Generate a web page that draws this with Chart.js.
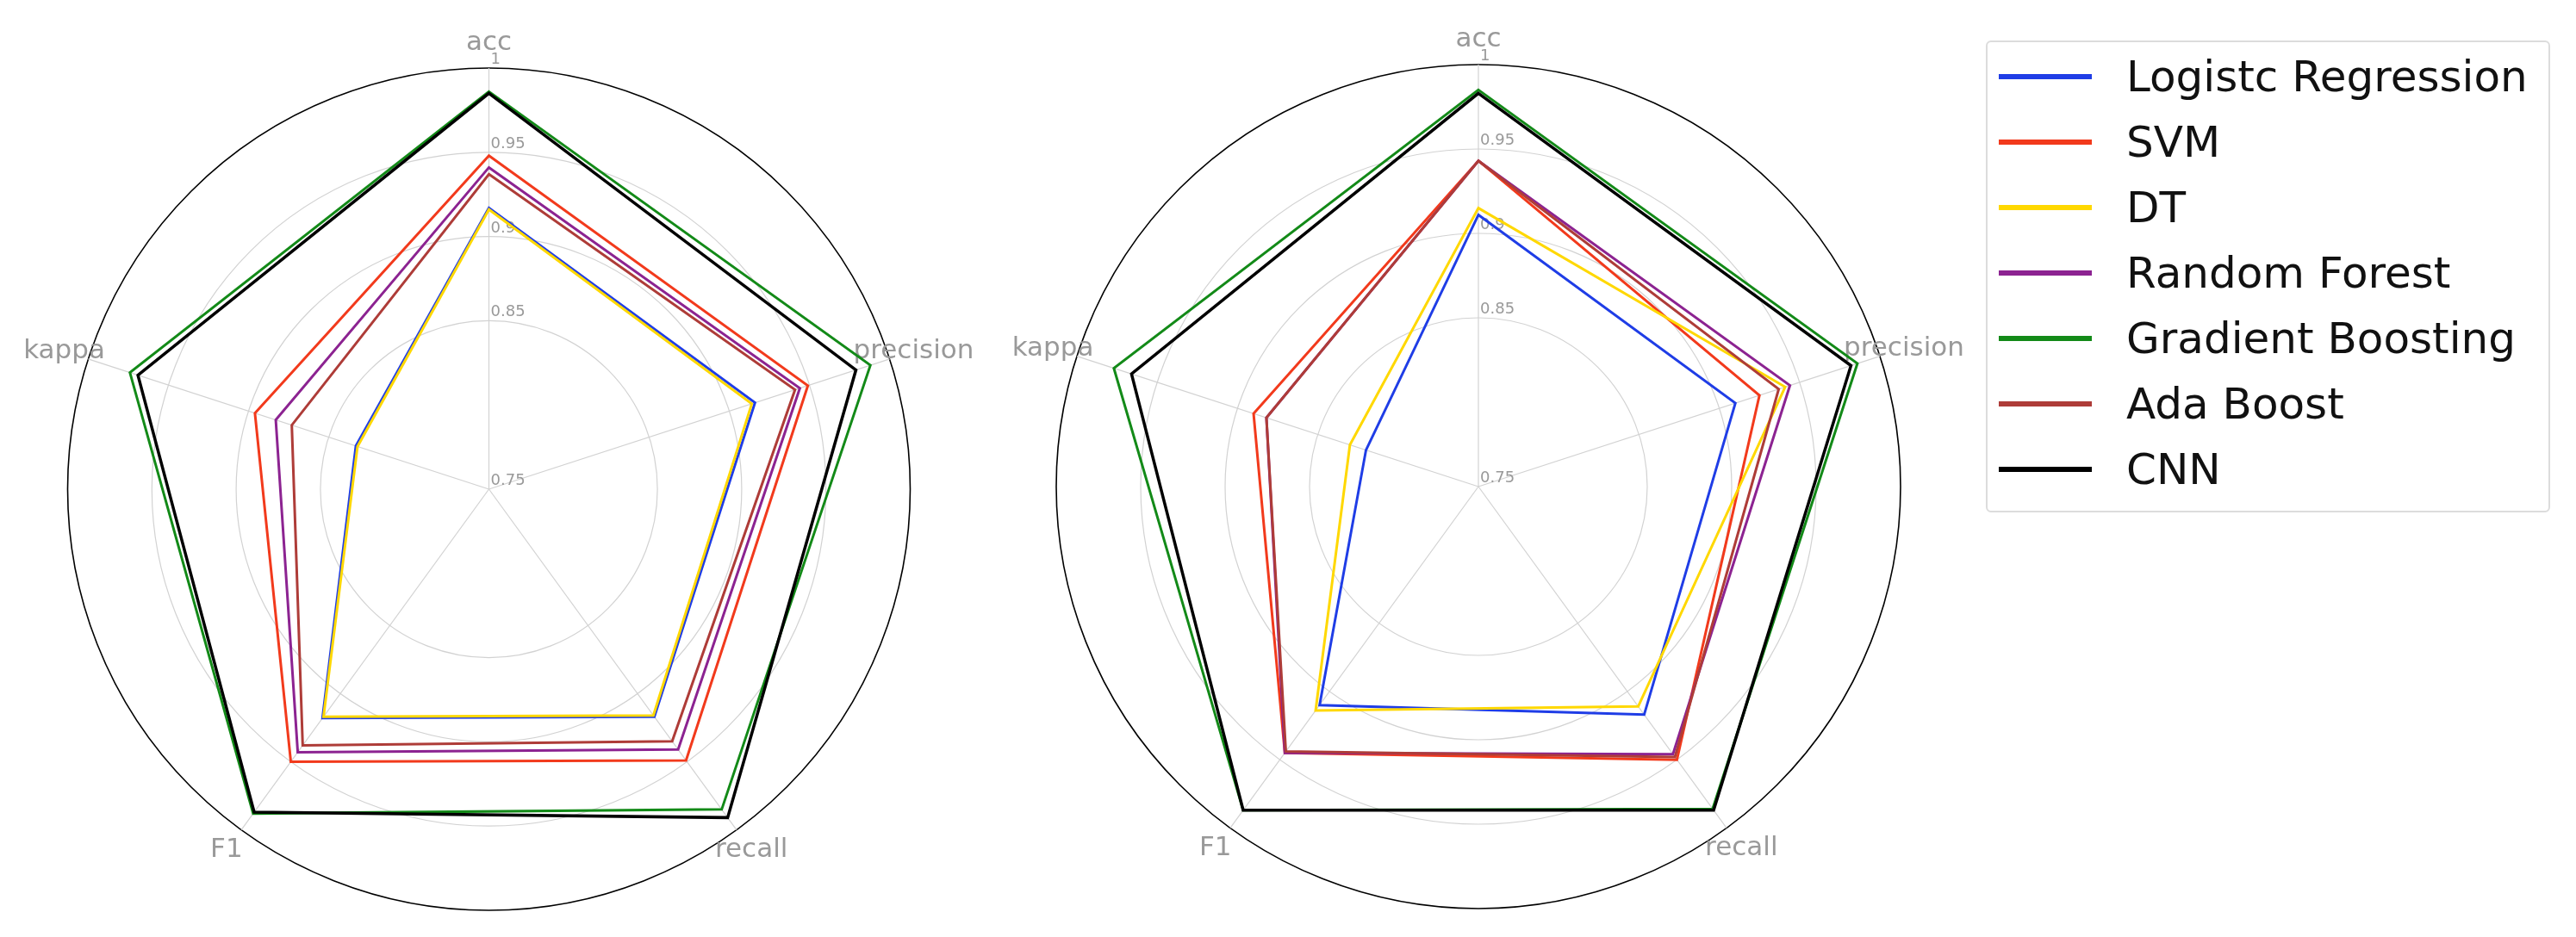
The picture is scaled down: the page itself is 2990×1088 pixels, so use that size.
<!DOCTYPE html>
<html lang="en">

<head>
  <meta charset="UTF-8">
  <title>Radar comparison</title>
  <script src="https://cdn.jsdelivr.net/npm/chart.js@4.4.1/dist/chart.umd.min.js"></script>
  <style>
    body { margin: 0; background: #fff; width: 2990px; height: 1088px; overflow: hidden; font-family: "DejaVu Sans", sans-serif; }
    .radar-box { position: absolute; top: 0; height: 1088px; }
    #left-box { left: 0; width: 1150px; }
    #right-box { left: 1150px; width: 1140px; }
    .legend {
      position: absolute; left: 2305px; top: 47px; width: 651px; height: 542px;
      border: 2px solid #dcdcdc; border-radius: 6px; padding-top: 2px; box-sizing: content-box;
    }
    .legend-row { height: 76px; display: flex; align-items: center; }
    .legend-line { width: 108px; height: 6px; margin-left: 13px; margin-right: 40px; }
    .legend-text { font-size: 50px; color: #111; line-height: 76px; white-space: nowrap; }
  </style>
</head>

<body>

  <div class="radar-box" id="left-box"><canvas id="leftChart"></canvas></div>
  <div class="radar-box" id="right-box"><canvas id="rightChart"></canvas></div>
  <div class="legend" id="legend"></div>

  <script>
    // axes and radial ticks
    const axisLabels = ['acc', 'precision', 'recall', 'F1', 'kappa'];
    const tickValues = [0.75, 0.85, 0.9, 0.95, 1];
    const tickLabels = ['0.75', '0.85', '0.9', '0.95', '1'];

    const seriesNames = ['Logistc Regression', 'SVM', 'DT', 'Random Forest', 'Gradient Boosting', 'Ada Boost', 'CNN'];
    const seriesColors = ['#1f3de6', '#f23a1c', '#ffd800', '#8c2391', '#138a18', '#ae3c38', '#000000'];

    // left radar: acc, precision, recall, F1, kappa
    const leftLogReg = [0.917, 0.916, 0.917, 0.918, 0.833];
    const leftSVM = [0.948, 0.949, 0.949, 0.950, 0.896];
    const leftDT = [0.916, 0.914, 0.916, 0.917, 0.832];
    const leftRF = [0.941, 0.944, 0.941, 0.943, 0.883];
    const leftGB = [0.986, 0.988, 0.985, 0.988, 0.974];
    const leftAda = [0.937, 0.941, 0.935, 0.938, 0.873];
    const leftCNN = [0.985, 0.979, 0.991, 0.987, 0.969];

    // right radar
    const rightLogReg = [0.911, 0.910, 0.917, 0.910, 0.820];
    const rightSVM = [0.943, 0.925, 0.950, 0.945, 0.890];
    const rightDT = [0.915, 0.941, 0.911, 0.914, 0.830];
    const rightRF = [0.943, 0.944, 0.946, 0.945, 0.882];
    const rightGB = [0.985, 0.986, 0.986, 0.987, 0.977];
    const rightAda = [0.943, 0.937, 0.948, 0.944, 0.882];
    const rightCNN = [0.983, 0.982, 0.987, 0.987, 0.966];

    const leftValues = [leftLogReg, leftSVM, leftDT, leftRF, leftGB, leftAda, leftCNN];
    const rightValues = [rightLogReg, rightSVM, rightDT, rightRF, rightGB, rightAda, rightCNN];

    /* tick and axis labels, drawn under the lines */
    const radarText = {
      id: 'radarText',
      beforeDatasetsDraw(chart) {
        const r = chart.scales.r;
        const ctx = chart.ctx;
        ctx.save();
        ctx.fillStyle = '#999999';
        ctx.font = '18px "DejaVu Sans"';
        ctx.textAlign = 'left';
        ctx.textBaseline = 'alphabetic';
        tickValues.forEach((v, i) => {
          const y = r.yCenter - r.getDistanceFromCenterForValue(v);
          ctx.fillText(tickLabels[i], r.xCenter + 2, y - 5);
        });
        ctx.font = '31px "DejaVu Sans"';
        ctx.textAlign = 'center';
        ctx.textBaseline = 'middle';
        axisLabels.forEach((lab, i) => {
          const p = r.getPointPosition(i, r.drawingArea * 1.06);
          ctx.fillText(lab, p.x, p.y);
        });
        ctx.restore();
      }
    };

    function makeRadar(id, values, pad) {
      return new Chart(document.getElementById(id), {
        type: 'radar',
        data: {
          labels: axisLabels,
          datasets: seriesNames.map((name, i) => ({
            label: name,
            data: values[i],
            borderColor: seriesColors[i],
            backgroundColor: 'rgba(0,0,0,0)',
            borderWidth: i === 6 ? 3.5 : 3,
            fill: false,
            pointRadius: 0,
            pointHoverRadius: 0,
            order: seriesNames.length - i
          }))
        },
        options: {
          responsive: true,
          maintainAspectRatio: false,
          animation: false,
          layout: { padding: pad },
          plugins: { legend: { display: false }, tooltip: { enabled: false } },
          scales: {
            r: {
              min: 0.75,
              max: 1,
              afterBuildTicks: s => { s.ticks = tickValues.map(v => ({ value: v })); },
              afterFit: s => {
                s.xCenter = s.left + s.width / 2;
                s.yCenter = s.top + s.height / 2;
                s.drawingArea = Math.min(s.width, s.height) / 2;
              },
              ticks: { display: false },
              pointLabels: { display: false },
              grid: {
                circular: true,
                color: c => (c.tick && c.tick.value === 1) ? '#000000' : '#d2d2d2',
                lineWidth: c => (c.tick && c.tick.value === 1) ? 1.6 : 1.2
              },
              angleLines: { color: '#d2d2d2', lineWidth: 1.2 }
            }
          }
        },
        plugins: [radarText]
      });
    }

    makeRadar('leftChart', leftValues, { left: 78, top: 79, right: 93, bottom: 31 });
    makeRadar('rightChart', rightValues, { left: 76, top: 75, right: 84, bottom: 33 });

    // legend
    const legend = document.getElementById('legend');
    seriesNames.forEach((name, i) => {
      const row = document.createElement('div');
      row.className = 'legend-row';
      row.innerHTML = '<span class="legend-line" style="background:' + seriesColors[i] + '"></span>' +
        '<span class="legend-text">' + name + '</span>';
      legend.appendChild(row);
    });
  </script>

</body>

</html>
